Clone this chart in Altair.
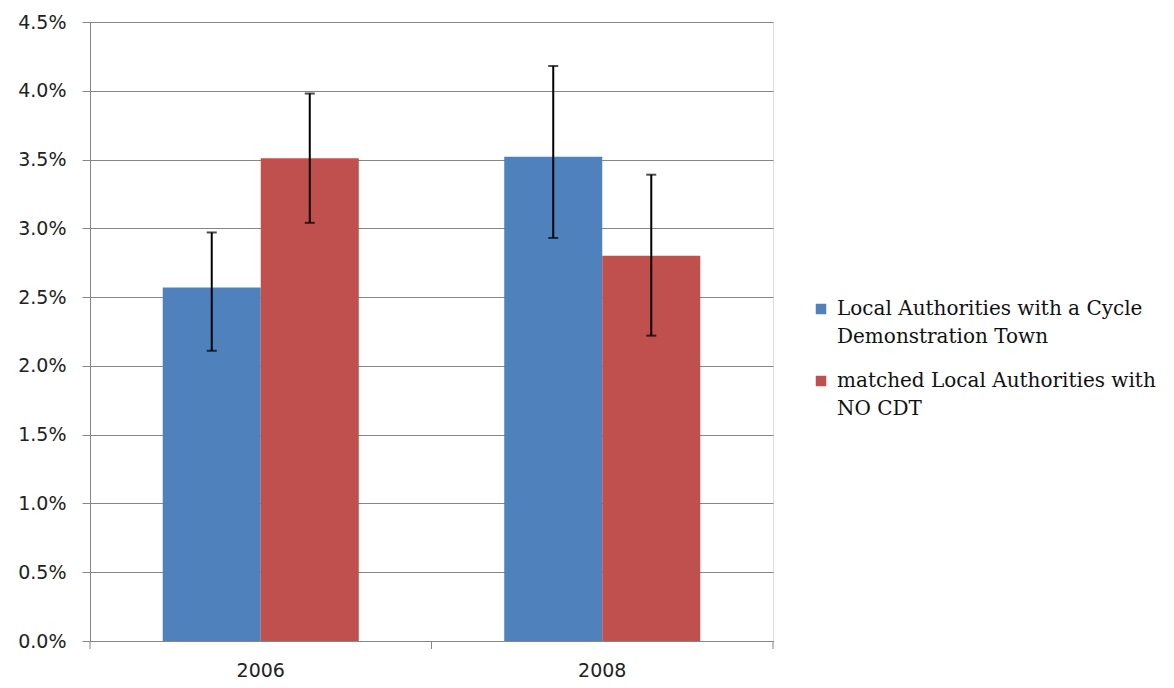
import altair as alt
import pandas as pd

years = ["2006", "2008"]
# "|" marks the line break in the legend labels
series = [
    "Local Authorities with a Cycle|Demonstration Town",
    "matched Local Authorities with|NO CDT",
]
cdt_values = [0.0257, 0.0352]
cdt_low = [0.0211, 0.0293]
cdt_high = [0.0297, 0.0418]
nocdt_values = [0.0351, 0.0280]
nocdt_low = [0.0304, 0.0222]
nocdt_high = [0.0398, 0.0339]
y_ticks = [0, 0.005, 0.01, 0.015, 0.02, 0.025, 0.03, 0.035, 0.04, 0.045]
colors = ["#4F81BD", "#C0504D"]

rows = []
for i, yr in enumerate(years):
    rows.append(dict(year=yr, series=series[0], value=cdt_values[i], low=cdt_low[i], high=cdt_high[i]))
    rows.append(dict(year=yr, series=series[1], value=nocdt_values[i], low=nocdt_low[i], high=nocdt_high[i]))
df = pd.DataFrame(rows)
df_years = pd.DataFrame({"year": years})

W, H = 683, 619
grid_color = "#868686"

x_enc = alt.X("year:N", sort=years,
              scale=alt.Scale(paddingInner=0, paddingOuter=0),
              axis=alt.Axis(title=None, labelAngle=0, ticks=False, labelFont="DejaVu Sans",
                            labelFontSize=19, labelColor="#222", labelPadding=20,
                            domainColor=grid_color, grid=False))
xoff = alt.XOffset("series:N", sort=series,
                   scale=alt.Scale(domain=series, paddingInner=0, paddingOuter=0.742))
y_scale = alt.Scale(domain=[0, 0.045], nice=False)

bars = alt.Chart(df).mark_bar().encode(
    x=x_enc,
    xOffset=xoff,
    y=alt.Y("value:Q", scale=y_scale,
            axis=alt.Axis(title=None, format=".1%", values=y_ticks, labelFont="DejaVu Sans",
                          labelFontSize=19, labelColor="#222", tickSize=8, tickColor=grid_color,
                          labelPadding=16, domainColor=grid_color, gridColor=grid_color,
                          gridOpacity=1)),
    color=alt.Color("series:N", sort=series,
                    scale=alt.Scale(domain=series, range=colors),
                    legend=alt.Legend(title=None, orient="none", legendX=721, legendY=277,
                                      symbolType="square", symbolSize=110, symbolStrokeWidth=0,
                                      labelFont="DejaVu Serif", labelFontSize=20,
                                      labelColor="#111", labelLimit=400, rowPadding=24,
                                      labelExpr="split(datum.label, '|')",
                                      labelBaseline="middle", labelOffset=6, symbolOffset=0)),
)

err = alt.Chart(df).mark_rule(color="black", strokeWidth=2).encode(
    x=alt.X("year:N", sort=years), xOffset=xoff,
    y=alt.Y("low:Q", scale=y_scale), y2="high:Q")
cap_lo = alt.Chart(df).mark_tick(color="black", thickness=2, size=10).encode(
    x=alt.X("year:N", sort=years), xOffset=xoff, y=alt.Y("low:Q", scale=y_scale))
cap_hi = alt.Chart(df).mark_tick(color="black", thickness=2, size=10).encode(
    x=alt.X("year:N", sort=years), xOffset=xoff, y=alt.Y("high:Q", scale=y_scale))

tick0 = alt.Chart(df_years).mark_rule(color=grid_color, strokeWidth=1).encode(
    x=alt.X("year:N", sort=years, bandPosition=0), y=alt.value(H), y2=alt.value(H + 8))
tick1 = alt.Chart(df_years).mark_rule(color=grid_color, strokeWidth=1).encode(
    x=alt.X("year:N", sort=years, bandPosition=1), y=alt.value(H), y2=alt.value(H + 8))

chart = alt.layer(bars, err, cap_lo, cap_hi, tick0, tick1).properties(
    width=W, height=H,
    autosize=alt.AutoSizeParams(type="none"),
    padding={"left": 82, "top": 14, "right": 393, "bottom": 39},
).configure_view(stroke=None).configure(
    background="white", style={"guide-label": {"lineHeight": 28}}
)

chart.save("out.html", embed_options={"renderer": "svg", "actions": False})
